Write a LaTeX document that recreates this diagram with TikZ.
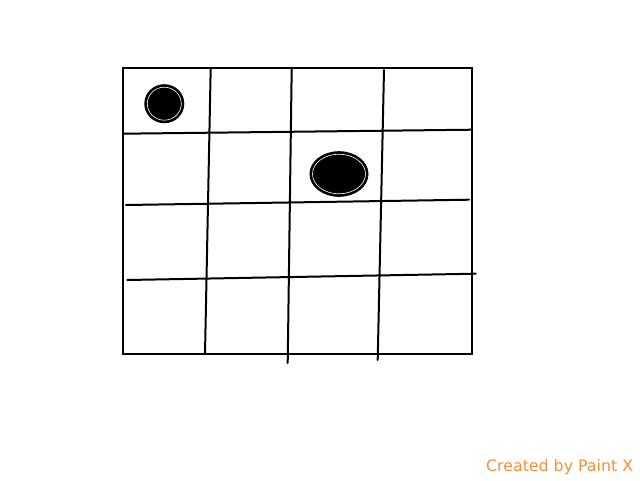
\documentclass[tikz,border=0pt]{standalone}
\usepackage{fontspec}
\newfontfamily\credfont{DejaVu Sans}
\definecolor{credit}{RGB}{240,145,60}
\tikzset{
  gridline/.style={line width=2pt, black, line cap=round},
  blob/.style={fill=black, draw=black, line width=1pt},
  blobring/.style={draw=white, line width=0.6pt}
}
\begin{document}
\begin{tikzpicture}[x=1pt,y=-1pt]
\useasboundingbox (0,0) rectangle (640,480);
% outer frame
\draw[gridline, line cap=butt, line join=miter] (123,68) rectangle (472,354);
% vertical lines
\draw[gridline] (210.7,68) -- (205,354);
\draw[gridline] (291.7,68) -- (287.7,363);
\draw[gridline] (384,70) -- (377.7,360);
% horizontal lines
\draw[gridline] (123,133.7) -- (472,129.7);
\draw[gridline] (126,205) -- (469,199.7);
\draw[gridline] (127.3,280) -- (475.7,273.7);
% blobs
\fill[blob] (164.3,103.7) ellipse [x radius=19.5, y radius=19];
\draw[blobring] (164.3,103.7) ellipse [x radius=17, y radius=16.5];
\fill[blob] (339,174) ellipse [x radius=29, y radius=22.3];
\draw[blobring] (339,174) ellipse [x radius=26.5, y radius=19.8];
% credit
\node[anchor=base west, inner sep=0pt, text=credit, font=\credfont\fontsize{15.8}{18}\selectfont] (credit) at (486,471) {Created by Paint X};
\end{tikzpicture}
\end{document}
